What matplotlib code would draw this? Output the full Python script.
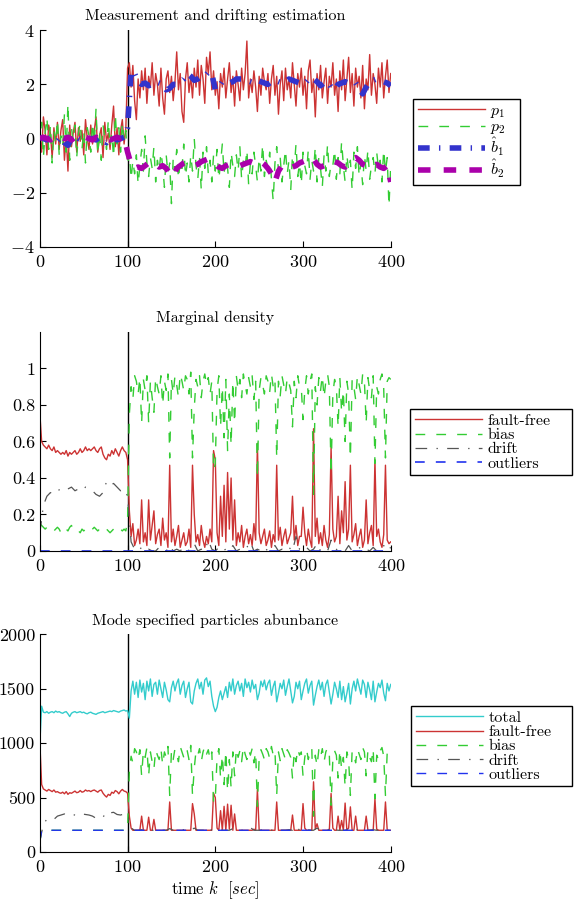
import numpy as np
import matplotlib
matplotlib.use("Agg")
import matplotlib.pyplot as plt

plt.rcParams['font.family'] = ['cmr10', 'DejaVu Serif']
plt.rcParams['mathtext.fontset'] = 'cm'
plt.rcParams['axes.formatter.use_mathtext'] = True
plt.rcParams['lines.scale_dashes'] = False
plt.rcParams['font.size'] = 11.5

# time grids (samples every 2 s and every 4 s)
t2 = np.arange(0, 401, 2)
t4 = np.arange(0, 401, 4)

# ---- panel 1: measurements p1, p2 (every 2 s) ----
p1 = [0.1, -0.5, 0.8, 0.3, -0.6, 0.5, 0.2, -0.7, 0.4, -0.2,
      0.6, -0.4, 0.3, 0.7, -0.8, 0.1, -1.2, 0.5, -0.3, 0.2,
      0.6, -0.5, 0.4, -0.1, 0.3, -0.6, 0.7, 0.0, -0.4, 0.5,
      -0.2, 0.3, 0.8, -0.5, 0.1, 0.4, -0.7, 0.6, -0.1, 0.2,
      -0.4, 0.5, 1.2, -0.3, 0.4, -0.6, 0.3, 0.7, -0.2, 0.4] + \
     [2.6, 2.8, 1.9, 2.7, 1.4, 0.7, 2.2, 1.5, 2.5, 1.8,
      2.6, 1.3, 2.3, 1.9, 2.8, 1.6, 2.4, 2.0, 1.2, 2.6,
      1.5, 0.9, 2.2, 2.5, 1.7, 2.3, 1.4, 2.1, 3.2, 1.8,
      2.4, 1.0, 0.6, 2.2, 2.8, 1.7, 2.3, 1.5, 2.6, 1.9,
      2.9, 1.6, 2.7, 2.2, 1.3, 3.0, 2.4, 3.2, 1.8, 2.5,
      1.6, 2.1, 1.1, 2.4, 1.9, 2.6, 1.5, 2.2, 2.8, 1.7,
      2.3, 1.2, 2.5, 2.0, 1.4, 2.6, 1.8, 2.4, 3.6, 1.5,
      2.2, 1.7, 2.5, 1.9, 1.0, 2.3, 1.6, 2.6, 2.1, 1.8,
      2.4, 1.3, 2.2, 2.7, 1.6, 2.3, 0.9, 2.0, 2.5, 1.4,
      2.6, 1.8, 2.2, 1.5, 2.8, 2.0, 1.2, 2.4, 1.9, 2.6,
      1.6, 2.3, 1.1, 2.5, 2.9, 1.7, 2.2, 0.8, 2.4, 1.8,
      2.7, 1.5, 2.1, 2.6, 1.3, 2.3, 1.9, 2.8, 1.6, 2.2,
      1.0, 2.5, 1.8, 2.9, 1.4, 2.2, 3.0, 1.7, 2.4, 1.2,
      2.6, 1.9, 2.3, 1.5, 2.7, 1.1, 2.2, 1.8, 3.1, 1.6,
      2.4, 2.0, 1.3, 2.6, 1.9, 2.8, 1.5, 2.3, 2.9, 1.7,
      2.4]

p2 = [-0.3, 0.6, -0.7, 0.2, 0.8, -0.4, 0.5, -0.9, 0.3, -0.2,
      0.7, -0.6, 0.1, -0.3, 0.9, -0.5, 1.3, -0.8, 0.4, -0.1,
      0.5, -0.7, 0.2, 0.6, -0.4, 0.3, -0.9, 0.4, 0.1, -0.5,
      0.6, -0.2, 1.1, -0.6, 0.3, -0.8, 0.5, 0.0, -0.4, 0.7,
      -0.3, 0.2, -0.7, 0.9, -0.2, 0.4, -0.5, 0.6, -0.1, 0.3] + \
     [-1.0, -0.5, -1.5, -0.8, -1.3, -0.6, -1.7, -1.0, -0.4, -1.2,
      0.1, -0.9, -1.4, -0.7, -1.1, -0.3, -1.6, -0.8, -1.2, -0.5,
      -1.0, -1.8, -0.6, -1.3, -0.9, -2.4, -0.7, -1.2, -0.4, -1.5,
      -0.8, -1.1, -0.2, -1.4, -0.9, -1.6, -0.6, -1.2, 0.0, -1.0,
      -1.5, -0.7, -1.9, -0.5, -1.1, -0.3, -1.3, -0.8, -1.6, -0.6,
      -1.2, -0.4, -1.5, -0.9, -0.2, -1.3, -0.7, -1.1, -1.8, -0.5,
      -1.0, -1.4, -0.6, -1.2, -0.3, -1.5, -0.8, -1.1, -0.4, -1.7,
      -0.9, -1.3, -0.5, -1.0, -1.6, -0.7, -1.2, -0.2, -1.4, -0.8,
      -1.1, -0.5, -1.5, -2.3, -0.9, -0.3, -1.2, -0.7, -1.6, -1.0,
      -0.4, -1.3, -0.8, -1.9, -0.6, -1.1, -0.2, -1.4, -0.9, -1.7,
      -0.5, -1.0, -1.3, -0.4, -1.5, -0.8, -1.2, -0.3, -1.6, -0.7,
      -1.1, -1.8, -0.6, -1.2, -0.2, -1.4, -0.9, -1.0, -0.4, -1.5,
      -0.7, -1.3, -0.1, -1.0, -1.6, -0.6, -1.2, -0.8, -1.9, -0.5,
      -1.1, -0.3, -1.4, -0.9, -1.7, -0.6, -1.2, -0.4, -1.5, -1.0,
      -0.7, -1.3, -0.5, -1.1, -0.8, -1.6, -0.4, -1.2, -0.7, -2.5,
      -1.0]

# drift estimates (every 4 s)
b1_hat = [0.05, 0.0, -0.05, 0.05, 0.0, -0.1, 0.05, -0.15, -0.25, 0.0,
          0.1, 0.0, -0.05, 0.05, 0.0, 0.0, -0.05, 0.05, -0.1, -0.15,
          0.0, 0.05, -0.05, 0.0, 0.05] + \
         [0.4, 2.5, 2.4, 2.1, 2.0, 2.05, 1.95, 2.0, 2.1, 2.05,
          2.0, 1.8, 1.85, 2.0, 2.0, 2.1, 2.2, 2.4, 2.3, 2.15,
          2.2, 2.3, 2.3, 2.45, 2.4, 1.8, 1.9, 2.1, 2.1, 2.05,
          2.1, 2.2, 2.2, 2.2, 2.15, 2.1, 2.05, 2.15, 2.1, 2.05,
          2.0, 2.1, 2.15, 2.1, 2.05, 2.1, 2.2, 2.15, 2.1, 2.05,
          2.0, 2.1, 2.25, 2.2, 2.1, 1.95, 2.05, 2.1, 1.9, 1.8,
          2.0, 2.05, 2.1, 2.05, 2.1, 2.05, 1.85, 1.65, 1.9, 2.1,
          2.15, 2.2, 2.15, 2.1, 2.05, 1.95]

b2_hat = [0.0, 0.05, 0.0, -0.05, 0.05, 0.0, 0.05, 0.0, 0.05, -0.05,
          0.05, 0.0, 0.0, 0.05, 0.0, -0.05, 0.05, 0.0, 0.05, 0.0,
          -0.05, 0.0, 0.05, 0.0, 0.05] + \
         [-0.5, -0.95, -1.1, -1.05, -1.1, -1.0, -0.9, -0.85, -0.95, -1.05,
          -1.0, -1.1, -1.3, -1.4, -1.1, -1.0, -0.9, -0.85, -0.9, -1.0,
          -0.95, -0.85, -0.8, -0.75, -0.8, -0.95, -1.05, -1.1, -1.0, -0.95,
          -1.0, -1.05, -1.0, -0.95, -0.9, -0.85, -0.9, -0.8, -0.85, -0.95,
          -1.1, -1.3, -1.6, -1.2, -1.0, -0.95, -1.0, -1.05, -1.0, -0.9,
          -0.85, -0.8, -0.7, -0.75, -0.95, -1.05, -1.0, -0.9, -0.95, -0.85,
          -0.9, -1.0, -1.05, -0.95, -0.75, -0.7, -0.8, -0.95, -1.0, -1.1,
          -1.0, -0.95, -1.05, -1.1, -1.0, -1.6]

# ---- panel 2: marginal density of each mode ----
dens_fault_free = [0.75, 0.60, 0.58, 0.57, 0.56, 0.58, 0.56, 0.55, 0.57, 0.54,
                   0.55, 0.54, 0.53, 0.54, 0.53, 0.55, 0.52, 0.54, 0.53, 0.54,
                   0.55, 0.53, 0.54, 0.56, 0.54, 0.55, 0.57, 0.55, 0.56, 0.55,
                   0.56, 0.57, 0.55, 0.54, 0.56, 0.57, 0.53, 0.51, 0.50, 0.53,
                   0.52, 0.55, 0.53, 0.56, 0.54, 0.52, 0.55, 0.57, 0.55, 0.54] + \
                  [0.50, 0.22, 0.08, 0.15, 0.03, 0.06, 0.12, 0.04, 0.28, 0.05,
                   0.10, 0.03, 0.28, 0.06, 0.14, 0.22, 0.04, 0.09, 0.12, 0.03,
                   0.18, 0.06, 0.10, 0.02, 0.47, 0.05, 0.12, 0.03, 0.08, 0.14,
                   0.02, 0.06, 0.10, 0.03, 0.05, 0.12, 0.02, 0.47, 0.20, 0.05,
                   0.09, 0.03, 0.14, 0.06, 0.02, 0.08, 0.04, 0.12, 0.05, 0.55,
                   0.50, 0.10, 0.03, 0.30, 0.08, 0.36, 0.05, 0.43, 0.12, 0.40,
                   0.06, 0.28, 0.03, 0.10, 0.05, 0.14, 0.02, 0.08, 0.12, 0.04,
                   0.09, 0.03, 0.15, 0.06, 0.59, 0.10, 0.04, 0.08, 0.12, 0.03,
                   0.06, 0.11, 0.02, 0.09, 0.05, 0.47, 0.06, 0.13, 0.03, 0.08,
                   0.12, 0.04, 0.07, 0.10, 0.30, 0.06, 0.14, 0.03, 0.08, 0.08,
                   0.24, 0.10, 0.03, 0.12, 0.06, 0.02, 0.67, 0.08, 0.18, 0.04,
                   0.10, 0.03, 0.14, 0.06, 0.02, 0.09, 0.57, 0.12, 0.05, 0.08,
                   0.30, 0.04, 0.22, 0.10, 0.38, 0.06, 0.12, 0.47, 0.05, 0.09,
                   0.15, 0.03, 0.08, 0.12, 0.02, 0.06, 0.28, 0.04, 0.10, 0.14,
                   0.03, 0.50, 0.08, 0.12, 0.05, 0.02, 0.09, 0.47, 0.06, 0.04,
                   0.05]

dens_bias = [0.15, 0.14, 0.13, 0.12, 0.13, 0.12, 0.11, 0.12, 0.11, 0.12,
             0.13, 0.12, 0.10, 0.11, 0.13, 0.12, 0.11, 0.13, 0.14, 0.12,
             0.11, 0.10, 0.11, 0.10, 0.12, 0.11, 0.12, 0.11, 0.10, 0.11,
             0.12, 0.13, 0.12, 0.11, 0.12, 0.13, 0.12, 0.11, 0.12, 0.11,
             0.10, 0.11, 0.12, 0.11, 0.10, 0.11, 0.12, 0.11, 0.12, 0.11] + \
            [0.17, 0.75, 0.90, 0.83, 0.96, 0.93, 0.86, 0.95, 0.70, 0.94,
             0.88, 0.96, 0.70, 0.93, 0.84, 0.76, 0.95, 0.90, 0.86, 0.96,
             0.80, 0.93, 0.88, 0.97, 0.51, 0.94, 0.86, 0.96, 0.91, 0.84,
             0.97, 0.93, 0.88, 0.96, 0.94, 0.86, 0.98, 0.51, 0.78, 0.94,
             0.90, 0.96, 0.84, 0.93, 0.97, 0.91, 0.95, 0.86, 0.93, 0.44,
             0.48, 0.88, 0.96, 0.68, 0.90, 0.62, 0.94, 0.55, 0.86, 0.58,
             0.93, 0.70, 0.96, 0.88, 0.94, 0.84, 0.97, 0.91, 0.86, 0.95,
             0.90, 0.96, 0.83, 0.93, 0.40, 0.88, 0.95, 0.91, 0.86, 0.96,
             0.93, 0.87, 0.97, 0.90, 0.94, 0.51, 0.93, 0.85, 0.96, 0.91,
             0.86, 0.95, 0.92, 0.88, 0.68, 0.93, 0.84, 0.96, 0.90, 0.90,
             0.72, 0.88, 0.96, 0.86, 0.93, 0.97, 0.31, 0.90, 0.80, 0.95,
             0.88, 0.96, 0.84, 0.93, 0.97, 0.90, 0.42, 0.86, 0.94, 0.90,
             0.68, 0.95, 0.76, 0.88, 0.60, 0.93, 0.86, 0.51, 0.94, 0.90,
             0.83, 0.96, 0.91, 0.86, 0.97, 0.93, 0.70, 0.95, 0.88, 0.84,
             0.96, 0.48, 0.90, 0.86, 0.94, 0.97, 0.89, 0.51, 0.93, 0.95,
             0.94]

dens_drift = [0.10, 0.25, 0.30, 0.32, 0.31, 0.33, 0.34, 0.35, 0.34, 0.35,
              0.33, 0.34, 0.33, 0.35, 0.34, 0.33, 0.31, 0.30, 0.32, 0.38,
              0.36, 0.37, 0.35, 0.33, 0.34] + \
             [0.30, 0.05,
              0.01, 0.0, 0.02, 0.0, 0.01, 0.0, 0.0, 0.02, 0.01, 0.0,
              0.03, 0.0, 0.01, 0.0, 0.02, 0.0, 0.01, 0.04, 0.0, 0.01,
              0.0, 0.06, 0.01, 0.0, 0.02, 0.0, 0.01, 0.0, 0.03, 0.0,
              0.01, 0.0, 0.02, 0.05, 0.0, 0.01, 0.0, 0.02, 0.0, 0.01,
              0.03, 0.0, 0.01, 0.0, 0.02, 0.0, 0.08, 0.01, 0.0, 0.02,
              0.0, 0.01, 0.04, 0.0, 0.01, 0.0, 0.06, 0.02, 0.0, 0.01,
              0.0, 0.03, 0.0, 0.01, 0.02, 0.0, 0.01, 0.0, 0.02, 0.0,
              0.01, 0.03, 0.0, 0.02]

dens_outliers = [0.0] * 201

# ---- panel 3: number of particles per mode ----
n_total = [1000, 1340, 1285, 1280, 1290, 1275, 1285, 1290, 1280, 1295,
           1285, 1290, 1280, 1275, 1285, 1290, 1270, 1245, 1275, 1285,
           1290, 1280, 1285, 1290, 1280, 1285, 1275, 1270, 1280, 1285,
           1275, 1270, 1265, 1275, 1280, 1285, 1290, 1280, 1285, 1290,
           1295, 1290, 1300, 1295, 1290, 1285, 1295, 1300, 1305, 1295] + \
          [1300, 1230, 1480, 1570, 1450, 1560, 1420, 1580, 1470, 1550,
           1400, 1570, 1480, 1590, 1430, 1540, 1560, 1450, 1580, 1500,
           1420, 1560, 1490, 1400, 1380, 1510, 1570, 1480, 1550, 1590,
           1450, 1530, 1570, 1420, 1500, 1560, 1380, 1360, 1480, 1550,
           1590, 1500, 1560, 1450, 1580, 1600, 1520, 1570, 1430, 1340,
           1290, 1330, 1420, 1480, 1400, 1460, 1520, 1420, 1560, 1480,
           1590, 1450, 1530, 1570, 1480, 1550, 1430, 1590, 1510, 1560,
           1470, 1580, 1500, 1540, 1400, 1460, 1570, 1520, 1580, 1490,
           1550, 1580, 1440, 1520, 1570, 1380, 1460, 1550, 1500, 1580,
           1440, 1520, 1590, 1480, 1370, 1430, 1560, 1500, 1570, 1400,
           1480, 1550, 1590, 1460, 1530, 1570, 1350, 1440, 1520, 1580,
           1490, 1560, 1430, 1540, 1580, 1470, 1360, 1450, 1560, 1500,
           1420, 1570, 1400, 1520, 1380, 1460, 1550, 1360, 1500, 1570,
           1480, 1590, 1520, 1450, 1580, 1540, 1420, 1560, 1490, 1400,
           1570, 1380, 1470, 1550, 1510, 1580, 1460, 1390, 1550, 1480,
           1540]

n_fault_free = [1000, 620, 580, 570, 560, 575, 565, 555, 570, 550,
                555, 545, 540, 550, 535, 555, 530, 545, 540, 550,
                560, 545, 550, 565, 550, 555, 570, 560, 565, 555,
                565, 570, 560, 550, 565, 570, 540, 520, 505, 530,
                520, 550, 540, 565, 555, 535, 560, 575, 560, 555] + \
               [540, 330, 220, 200, 200, 200, 200, 200, 330, 200,
                200, 200, 320, 200, 200, 300, 200, 200, 200, 200,
                200, 200, 200, 200, 460, 200, 200, 200, 200, 200,
                200, 200, 200, 200, 200, 200, 200, 445, 350, 200,
                200, 200, 200, 200, 200, 200, 200, 200, 200, 540,
                500, 220, 200, 380, 200, 420, 200, 440, 210, 430,
                200, 350, 200, 200, 200, 200, 200, 200, 200, 200,
                200, 200, 210, 200, 575, 200, 200, 200, 200, 200,
                200, 200, 200, 200, 200, 460, 200, 200, 200, 200,
                200, 200, 200, 200, 340, 200, 200, 200, 200, 200,
                445, 220, 200, 200, 200, 200, 645, 210, 260, 200,
                200, 200, 200, 200, 200, 200, 538, 220, 200, 200,
                330, 200, 290, 200, 450, 200, 220, 415, 200, 200,
                330, 200, 200, 200, 200, 200, 330, 200, 200, 200,
                200, 490, 210, 200, 200, 200, 200, 460, 200, 200,
                200]

n_bias = [100] + [200] * 49 + \
         [200, 740, 880, 820, 950, 920, 850, 940, 700, 930,
          870, 960, 700, 920, 830, 760, 940, 890, 850, 950,
          800, 920, 870, 970, 520, 930, 850, 950, 900, 830,
          970, 920, 870, 950, 930, 850, 980, 520, 770, 930,
          890, 950, 830, 920, 970, 900, 940, 850, 920, 450,
          490, 870, 950, 680, 890, 620, 930, 560, 850, 590,
          920, 700, 950, 870, 930, 830, 970, 900, 850, 940,
          890, 950, 820, 920, 420, 870, 940, 900, 850, 950,
          920, 860, 970, 890, 930, 520, 920, 840, 950, 900,
          850, 940, 910, 870, 680, 920, 830, 950, 890, 920,
          700, 870, 950, 850, 920, 960, 330, 890, 790, 940,
          870, 950, 830, 920, 960, 890, 430, 850, 930, 890,
          680, 940, 760, 870, 600, 920, 850, 520, 930, 890,
          820, 950, 900, 850, 960, 920, 700, 940, 870, 830,
          950, 490, 890, 850, 930, 960, 880, 520, 920, 940,
          930]

n_drift = [100, 260, 300, 310, 300, 330, 340, 350, 335, 345,
           340, 335, 350, 345, 340, 330, 310, 305, 320, 370,
           360, 365, 345, 340, 350] + \
          [340, 220,
           200, 200, 205, 200, 200, 200, 200, 210, 200, 200,
           215, 200, 200, 200, 205, 200, 200, 220, 200, 200,
           200, 230, 200, 200, 205, 200, 200, 200, 215, 200,
           200, 200, 205, 225, 200, 200, 200, 210, 200, 200,
           215, 200, 200, 200, 205, 200, 240, 200, 200, 210,
           200, 200, 220, 200, 200, 200, 230, 205, 200, 200,
           200, 215, 200, 200, 210, 200, 200, 200, 205, 200,
           200, 215, 200, 205]

n_outliers = [100] + [200] * 200

# colours
RED = '#cc3333'
GREEN = '#33cc33'
BLUE = '#3333cc'
MAGENTA = '#aa00aa'
CYAN = '#33cccc'
GREY = '#555555'
OBLUE = '#2233ee'

DASH = (7, 8)
DASHDOT = (8.4, 6.7, 1.0, 6.7)
FS = 11.5
TICK_FS = 13


def style_axes(ax, ylim, yticks):
    ax.set_xlim(0, 400)
    ax.set_ylim(*ylim)
    ax.set_xticks([0, 100, 200, 300, 400])
    ax.set_yticks(yticks)
    ax.spines['top'].set_visible(False)
    ax.spines['right'].set_visible(False)
    ax.tick_params(direction='in', length=4, labelsize=TICK_FS, top=False, right=False)
    ax.tick_params(axis='x', pad=5)
    ax.axvline(100, color='k', lw=1.0, zorder=1)


def add_legend(ax, box):
    # box = (left, top, width) in figure fraction
    left, top, width = box
    leg = ax.legend(loc='upper left', bbox_to_anchor=(left, top - 0.01, width, 0.01),
                    bbox_transform=fig.transFigure, mode='expand', fancybox=False,
                    edgecolor='k', framealpha=1, fontsize=FS,
                    handlelength=4.2, handletextpad=0.35, labelspacing=0.0,
                    borderpad=0.3, borderaxespad=0)
    leg.get_frame().set_linewidth(1.0)
    return leg


fig = plt.figure(figsize=(5.78, 9.07), dpi=100)

# panel 1
ax1 = fig.add_axes([0.069, 0.7277, 0.607, 0.239])
ax1.plot(t2, p1, color=RED, lw=1.0, label='$p_1$', zorder=2)
ax1.plot(t2, p2, color=GREEN, lw=1.0, dashes=DASH, label='$p_2$', zorder=2)
ax1.plot(t4, b1_hat, color=BLUE, lw=4, dashes=DASHDOT, label=r'$\hat{b}_1$', zorder=3)
ax1.plot(t4, b2_hat, color=MAGENTA, lw=4, dashes=(9, 9.5), label=r'$\hat{b}_2$', zorder=3)
style_axes(ax1, (-4, 4), [-4, -2, 0, 2, 4])
ax1.set_title('Measurement and drifting estimation', fontsize=FS, pad=7)
add_legend(ax1, (413 / 578, 1 - 99 / 907, 107 / 578))

# panel 2
ax2 = fig.add_axes([0.069, 0.3925, 0.607, 0.2415])
ax2.plot(t2, dens_fault_free, color=RED, lw=1.0, label='fault-free', zorder=2)
ax2.plot(t2, dens_bias, color=GREEN, lw=1.0, dashes=DASH, label='bias', zorder=2)
ax2.plot(t4, dens_drift, color=GREY, lw=0.9, dashes=DASHDOT, label='drift', zorder=2)
ax2.plot(t2, dens_outliers, color=OBLUE, lw=1.2, dashes=DASH, label='outliers', zorder=2)
style_axes(ax2, (0, 1.2), [0, 0.2, 0.4, 0.6, 0.8, 1])
ax2.set_yticklabels(['0', '0.2', '0.4', '0.6', '0.8', '1'])
ax2.set_title('Marginal density', fontsize=FS, pad=7)
add_legend(ax2, (410 / 578, 1 - 409 / 907, 162 / 578))

# panel 3
ax3 = fig.add_axes([0.069, 0.0606, 0.607, 0.240])
ax3.plot(t2, n_total, color=CYAN, lw=1.0, label='total', zorder=2)
ax3.plot(t2, n_fault_free, color=RED, lw=1.0, label='fault-free', zorder=2)
ax3.plot(t2, n_bias, color=GREEN, lw=1.0, dashes=DASH, label='bias', zorder=2)
ax3.plot(t4, n_drift, color=GREY, lw=0.9, dashes=DASHDOT, label='drift', zorder=2)
ax3.plot(t2, n_outliers, color=OBLUE, lw=1.0, dashes=DASH, label='outliers', zorder=2)
style_axes(ax3, (0, 2000), [0, 500, 1000, 1500, 2000])
ax3.set_yticklabels(['0', '500', '1000', '1500', '2000'])
ax3.set_title('Mode specified particles abunbance', fontsize=FS, pad=7)
ax3.set_xlabel(r'time $k\ \ [sec]$', fontsize=12, labelpad=3)
add_legend(ax3, (411 / 578, 1 - 706 / 907, 161 / 578))

fig.savefig('out.png', dpi=100)
